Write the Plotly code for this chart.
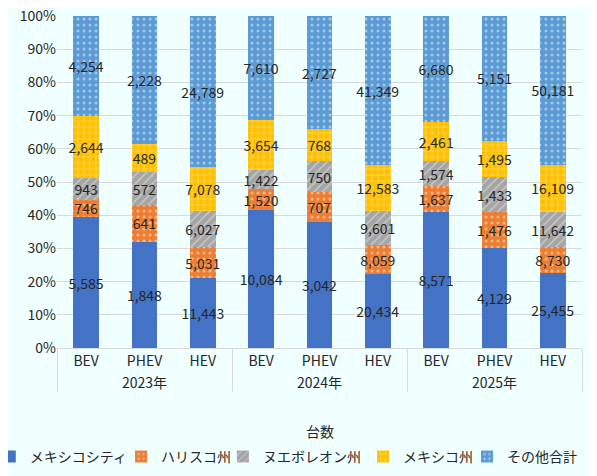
import plotly.graph_objects as go

years = ["2023年"] * 3 + ["2024年"] * 3 + ["2025年"] * 3
types = ["BEV", "PHEV", "HEV"] * 3

mexico_city = [5585, 1848, 11443, 10084, 3042, 20434, 8571, 4129, 25455]
jalisco = [746, 641, 5031, 1520, 707, 8059, 1637, 1476, 8730]
nuevo_leon = [943, 572, 6027, 1422, 750, 9601, 1574, 1433, 11642]
mexico_state = [2644, 489, 7078, 3654, 768, 12583, 2461, 1495, 16109]
others = [4254, 2228, 24789, 7610, 2727, 41349, 6680, 5151, 50181]

series = [
    ("メキシコシティ", mexico_city, "#4472C4", ""),
    ("ハリスコ州", jalisco, "#ED7D31", "."),
    ("ヌエボレオン州", nuevo_leon, "#A5A5A5", "/"),
    ("メキシコ州", mexico_state, "#FFC000", "+"),
    ("その他合計", others, "#5B9BD5", "."),
]
# left edge of each legend entry (fraction of plot width)
legend_x = [-0.128, 0.122, 0.316, 0.583, 0.781]

fig = go.Figure()
for i, (name, vals, color, shape) in enumerate(series):
    legend_id = "legend" if i == 0 else f"legend{i + 1}"
    fig.add_trace(
        go.Bar(
            name=name,
            x=[years, types],
            y=vals,
            text=[f"{v:,}" for v in vals],
            textposition="inside",
            insidetextanchor="middle",
            textangle=0,
            textfont=dict(size=14, color="#262626"),
            marker=dict(
                color=color,
                line=dict(width=0),
                pattern=dict(shape=shape, fgcolor="white", fgopacity=0.45, size=6, solidity=0.2)
                if shape
                else None,
            ),
            hoverinfo="skip",
            legend=legend_id,
        )
    )
    fig.update_layout(
        {
            legend_id: dict(
                orientation="h",
                x=legend_x[i],
                xanchor="left",
                y=-0.328,
                yanchor="middle",
                font=dict(size=14),
                itemwidth=30,
                bgcolor="rgba(0,0,0,0)",
            )
        }
    )

fig.update_layout(
    barmode="stack",
    barnorm="percent",
    bargap=0.56,
    width=597,
    height=476,
    margin=dict(l=49, r=23, t=8, b=136, autoexpand=False),
    paper_bgcolor="#F0FFFF",
    plot_bgcolor="#F0FFFF",
    font=dict(family="Noto Sans CJK JP", size=14, color="#262626"),
    uniformtext=dict(minsize=14, mode="show"),
    showlegend=True,
)
fig.update_yaxes(
    range=[0, 100],
    dtick=10,
    ticksuffix="%",
    gridcolor="#D9D9D9",
    zeroline=False,
    showline=False,
    ticks="",
    ticklabeloverflow="allow",
)
fig.update_xaxes(
    showline=True,
    linecolor="#D9D9D9",
    showdividers=True,
    dividercolor="#D9D9D9",
    ticks="",
)
fig.add_annotation(
    text="台数",
    xref="paper",
    yref="paper",
    x=0.5,
    y=-0.286,
    showarrow=False,
    font=dict(size=14),
)

fig.write_html("out.html")
